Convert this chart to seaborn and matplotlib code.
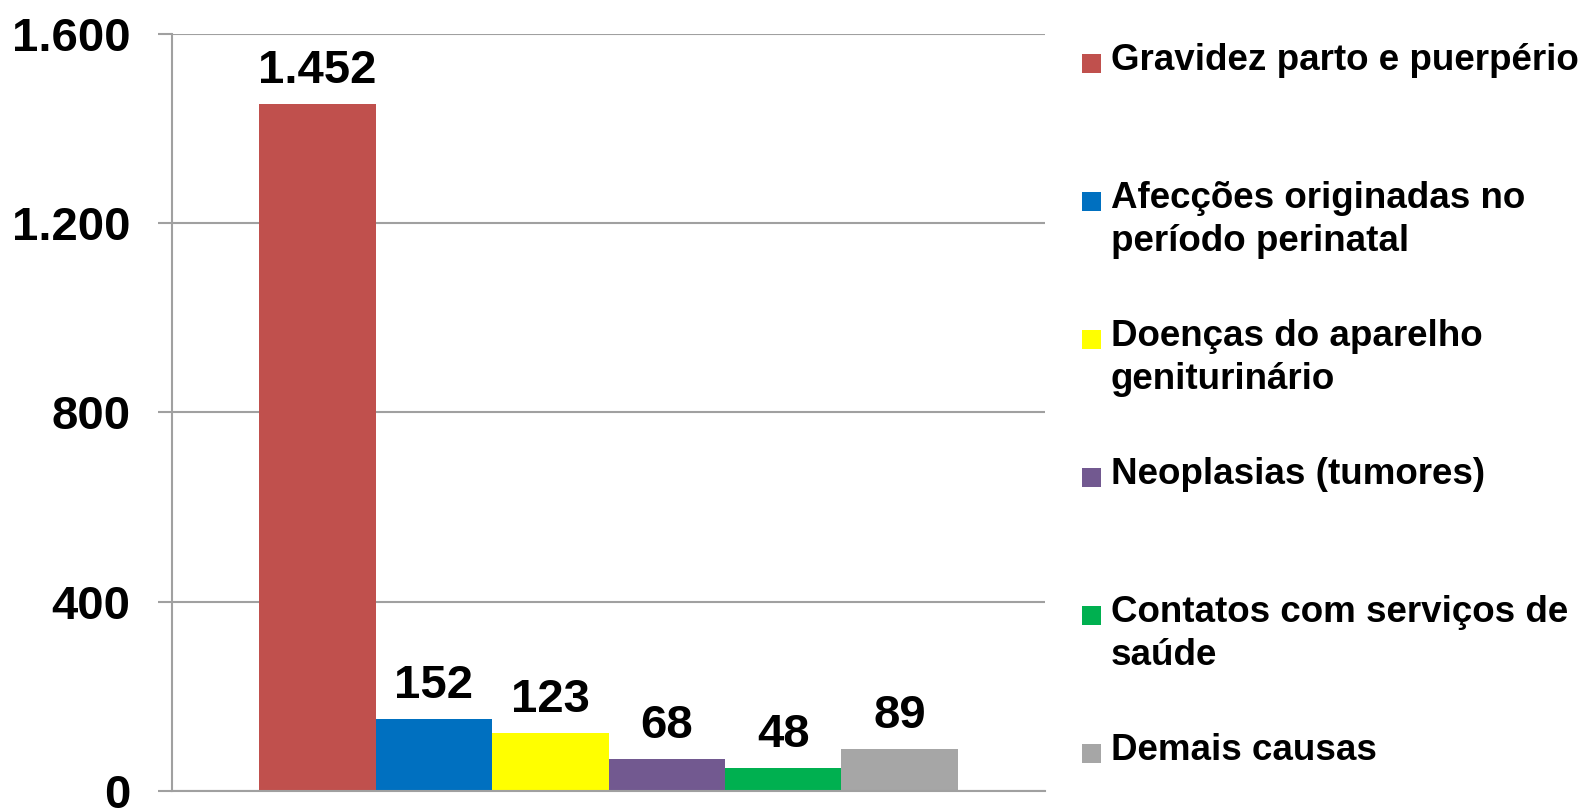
import numpy as np
import pandas as pd
import seaborn as sns
import matplotlib.pyplot as plt
from matplotlib.patches import Rectangle
from matplotlib.ticker import FuncFormatter, FixedLocator

# dados
categorias = ['Gravidez parto e puerpério',
              'Afecções originadas no\nperíodo perinatal',
              'Doenças do aparelho\ngeniturinário',
              'Neoplasias (tumores)',
              'Contatos com serviços de\nsaúde',
              'Demais causas']
valores = [1452, 152, 123, 68, 48, 89]
cores = ['#C0504D', '#0070C0', '#FFFF00', '#725990', '#00B050', '#A6A6A6']
yticks = [0, 400, 800, 1200, 1600]

sns.set_theme(style='white')
plt.rcParams['font.family'] = ['Liberation Sans', 'DejaVu Sans']
plt.rcParams['font.weight'] = 'bold'
plt.rcParams['text.color'] = 'black'
plt.rcParams['ytick.labelcolor'] = 'black'

df = pd.DataFrame({'grupo': [''] * len(categorias), 'categoria': categorias, 'valor': valores})

def fmt(v, pos=None):
    return '{:,.0f}'.format(v).replace(',', '.')

fig = plt.figure(figsize=(15.87, 8.08), dpi=100)
ax = fig.add_axes([172 / 1587, 1 - 791 / 808, (1045 - 172) / 1587, (791 - 34) / 808])

sns.barplot(data=df, x='grupo', y='valor', hue='categoria', palette=cores,
            width=0.8, gap=0, dodge=True, legend=False, ax=ax, saturation=1,
            linewidth=0)

for cont in ax.containers:
    ax.bar_label(cont, labels=[fmt(v) for v in cont.datavalues], padding=8,
                 fontsize=34, fontweight='bold', color='black')

ax.set_ylim(0, 1600)
ax.set_xlim(-0.5, 0.5)
ax.yaxis.set_major_locator(FixedLocator(yticks))
ax.yaxis.set_major_formatter(FuncFormatter(fmt))
ax.grid(axis='y', color='#A0A0A0', linewidth=1.5)
ax.set_axisbelow(True)
ax.tick_params(axis='y', left=True, length=10, width=1.5, color='#A0A0A0',
               pad=20, labelsize=34, labelcolor='black')
ax.tick_params(axis='x', bottom=False, labelbottom=False)
for lbl in ax.get_yticklabels():
    lbl.set_fontweight('bold')
ax.set_xlabel('')
ax.set_ylabel('')
for s in ['top', 'right']:
    ax.spines[s].set_visible(False)
for s in ['left', 'bottom']:
    ax.spines[s].set_color('#A0A0A0')
    ax.spines[s].set_linewidth(1.5)

# legenda desenhada à mão (marcador alinhado à primeira linha)
W, H = 1587, 808
for i, (cat, cor) in enumerate(zip(categorias, cores)):
    base = 73 + i * 138
    fig.add_artist(Rectangle((1082 / W, 1 - base / H), 19 / W, 19 / H,
                             transform=fig.transFigure, facecolor=cor, edgecolor='none'))
    fig.text(1111 / W, 1 - (base - 30) / H, cat, fontsize=26.5, fontweight='bold',
             va='top', ha='left', linespacing=1.28, color='black')

fig.savefig('out.png', dpi=100)
